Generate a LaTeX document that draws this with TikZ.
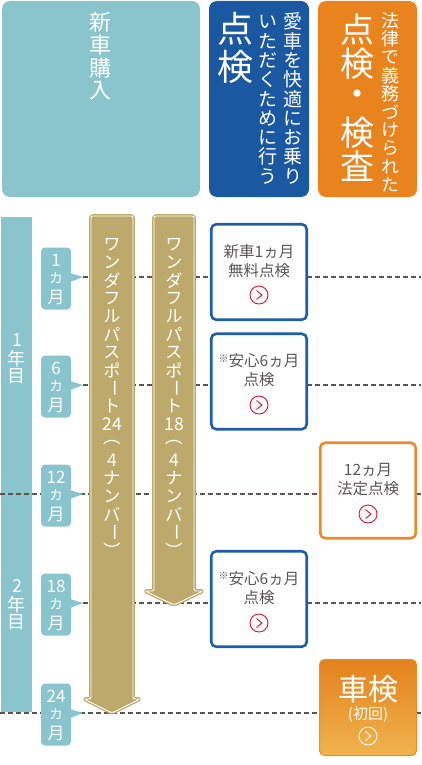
\documentclass[tikz,border=0pt]{standalone}
\usepackage{fontspec}
\setmainfont{Noto Sans CJK JP}
\newfontfamily\vjp[RawFeature=+vert]{Noto Sans CJK JP}
\newfontfamily\hjp{Noto Sans CJK JP}
\usetikzlibrary{shadings}
\definecolor{cteal}{HTML}{8AC4CC}
\definecolor{cblue}{HTML}{1B58A2}
\definecolor{cbbox}{HTML}{1E5EA9}
\definecolor{corange}{HTML}{E8831D}
\definecolor{cobox}{HTML}{EC8A26}
\definecolor{cgold}{HTML}{BEA96C}
\definecolor{cgray}{HTML}{5A5656}
\definecolor{cdash}{HTML}{5A5353}
\definecolor{cred}{HTML}{E2142D}
\definecolor{cshtop}{HTML}{E4811B}
\definecolor{cshbot}{HTML}{F0B44E}
\newcommand\vcell[2]{\vbox to #1{\vss\hbox to 1em{\hss#2\hss}\vss}}
\ExplSyntaxOn
\dim_new:N \l_vf_dim
\dim_new:N \l_vs_dim
\NewDocumentCommand \vst { m m m }
 {
  \dim_set:Nn \l_vf_dim {#1}
  \dim_set:Nn \l_vs_dim {#2}
  \vbox:n
   {
    \offinterlineskip
    \tl_map_inline:nn {#3}
     {
      \str_case:nnF {##1}
       {
        {︵}{\vcell{\l_vs_dim}{##1}}
        {︶}{\vcell{\l_vs_dim}{##1}}
       }
       { \vcell{\l_vf_dim}{##1} }
     }
   }
 }
\ExplSyntaxOff
\newcommand\smallka{\fontsize{14}{14}\selectfont カ}
\newcommand\kome{{\fontsize{10}{10}\selectfont\raisebox{0.45em}{※}}}
\newcommand\vbar{\rotatebox[origin=c]{-90}{\hjp ー}}
\tikzset{
 hdr/.style={rounded corners=8pt, anchor=north west, inner sep=0pt, outer sep=0pt, minimum height=196pt},
 vtxt/.style={inner sep=0pt, anchor=north, text=white},
 mlab/.style={fill=cteal, rounded corners=4pt, minimum width=30pt, minimum height=62pt, inner sep=0pt, text=white, font=\vjp\fontsize{17}{17}\selectfont},
 ptr/.style={fill=cteal},
 tline/.style={draw=cdash, line width=1.1pt, dash pattern=on 5pt off 3pt},
 arr/.style={fill=cgold, draw=cgold, double=white, double distance=0.9pt, line width=1.4pt, rounded corners=2pt, line join=round},
 chk/.style={fill=white, rounded corners=5pt, line width=2.6pt, minimum width=95.5pt, minimum height=95.5pt, inner sep=0pt},
 btxt/.style={align=center, text=cgray, font=\fontsize{15.5}{19}\selectfont, inner sep=0pt},
 ico/.style={circle, line width=0.9pt, minimum size=18pt, inner sep=0pt},
}
\newcommand\chev[2]{\draw[#2, line width=0.9pt, line join=miter] ([shift={(-2.5,-4.5)}]#1.center) -- ([shift={(3,0)}]#1.center) -- ([shift={(-2.5,4.5)}]#1.center);}
\begin{document}
\begin{tikzpicture}[x=1pt,y=-1pt]
\useasboundingbox (0,0) rectangle (421,765);
% headers
\node[hdr, fill=cteal, minimum width=198pt] (h1) at (2,1) {};
\node[hdr, fill=cblue, minimum width=100pt] (h2) at (209,1) {};
\node[hdr, fill=corange, minimum width=99pt] (h3) at (318,1) {};
\node[vtxt, font=\vjp\fontsize{22}{22}\selectfont] (h1t) at (100,10.5) {\vst{23pt}{23pt}{新車購入}};
\node[vtxt, font=\vjp\fontsize{36}{36}\selectfont] (h2a) at (235,9.5) {\vst{38pt}{38pt}{点検}};
\node[vtxt, font=\vjp\fontsize{19}{19}\selectfont] (h2b) at (293,11.8) {\vst{19.3pt}{19.3pt}{愛車を快適にお乗り}};
\node[vtxt, font=\vjp\fontsize{19}{19}\selectfont] (h2c) at (268,11.8) {\vst{19.3pt}{19.3pt}{いただくために行う}};
\node[vtxt, font=\vjp\fontsize{18}{18}\selectfont] (h3b) at (390,11.4) {\vst{18.2pt}{18.2pt}{法律で義務づけられた}};
\node[vtxt, font=\vjp\fontsize{34}{34}\selectfont] (h3a) at (357,12) {\vst{34.3pt}{34.3pt}{点検・検査}};
% year bar
\node[fill=cteal, anchor=north west, minimum width=31pt, minimum height=495pt, inner sep=0pt, outer sep=0pt] (bar) at (1,217) {};
\node[vtxt, font=\vjp\fontsize{18}{18}\selectfont] (y1) at (17,331) {\vst{18pt}{18pt}{1年目}};
\node[vtxt, font=\vjp\fontsize{18}{18}\selectfont] (y2) at (17,577) {\vst{18pt}{18pt}{2年目}};
% timeline dashed lines
\coordinate (p1) at (83,277);  \coordinate (e1) at (421,277);
\coordinate (p2) at (83,385);  \coordinate (e2) at (421,385);
\coordinate (s3) at (0,494);   \coordinate (e3) at (421,494);
\coordinate (p4) at (83,603);  \coordinate (e4) at (421,603);
\coordinate (s5) at (0,713);   \coordinate (e5) at (421,713);
\draw[tline] (p1) -- (e1);
\draw[tline] (p2) -- (e2);
\draw[tline] (s3) -- (e3);
\draw[tline] (p4) -- (e4);
\draw[tline] (s5) -- (e5);
% month labels
\node[mlab] (m1) at (56,278.5) {\vst{18.5pt}{18.5pt}{1{\smallka}月}};
\node[mlab] (m2) at (56,386.5) {\vst{18.5pt}{18.5pt}{6{\smallka}月}};
\node[mlab] (m3) at (56,495.5) {\vst{18.5pt}{18.5pt}{{12}{\smallka}月}};
\node[mlab] (m4) at (56,604.5) {\vst{18.5pt}{18.5pt}{{18}{\smallka}月}};
\node[mlab] (m5) at (56,714.5) {\vst{18.5pt}{18.5pt}{{24}{\smallka}月}};
\fill[ptr] (70,273) -- (p1) -- (70,282) -- cycle;
\fill[ptr] (70,381) -- (p2) -- (70,390) -- cycle;
\fill[ptr] (70,490) -- (83,494) -- (70,499) -- cycle;
\fill[ptr] (70,599) -- (p4) -- (70,608) -- cycle;
\fill[ptr] (70,709) -- (83,713) -- (70,718) -- cycle;
% passport arrows
\draw[arr] (91,216) -- (133,216) -- (133,699) -- (140,699) -- (112,713) -- (84,699) -- (91,699) -- cycle;
\draw[arr] (154,216) -- (194,216) -- (194,591) -- (203,591) -- (174,605) -- (145,591) -- (154,591) -- cycle;
\node[vtxt, font=\vjp\fontsize{17.5}{17.5}\selectfont] (a1t) at (112,235) {\vst{18pt}{18pt}{ワンダフルパスポ{\vbar}ト{24}︵4ナンバ{\vbar}︶}};
\node[vtxt, font=\vjp\fontsize{17.5}{17.5}\selectfont] (a2t) at (174,235) {\vst{18pt}{18pt}{ワンダフルパスポ{\vbar}ト{18}︵4ナンバ{\vbar}︶}};
% inspection boxes
\node[chk, draw=cbbox] (b1) at (259,272) {};
\node[btxt] (b1t) at (259,261) {新車1ヵ月\\無料点検};
\node[ico, draw=cred] (c1) at (259,295) {};
\chev{c1}{cred}
\node[chk, draw=cbbox] (b2) at (259,381.5) {};
\node[btxt] (b2t) at (259,370.5) {\kome 安心6ヵ月\\点検};
\node[ico, draw=cred] (c2) at (259,405) {};
\chev{c2}{cred}
\node[chk, draw=cobox] (b3) at (368,490.5) {};
\node[btxt] (b3t) at (368,479.5) {12ヵ月\\法定点検};
\node[ico, draw=cred] (c3) at (368,514) {};
\chev{c3}{cred}
\node[chk, draw=cbbox] (b4) at (259,599) {};
\node[btxt] (b4t) at (259,588) {\kome 安心6ヵ月\\点検};
\node[ico, draw=cred] (c4) at (259,623) {};
\chev{c4}{cred}
\node[rounded corners=5pt, top color=cshtop, bottom color=cshbot, draw=cobox, line width=1pt, minimum width=97pt, minimum height=96pt, inner sep=0pt] (b5) at (368,707.5) {};
\node[text=white, inner sep=0pt, font=\fontsize{30}{30}\selectfont] (b5a) at (368,689) {車検};
\node[text=white, inner sep=0pt, font=\fontsize{15}{15}\selectfont] (b5b) at (368,715) {(初回)};
\node[ico, draw=white] (c5) at (368,736) {};
\chev{c5}{white}
\end{tikzpicture}
\end{document}
